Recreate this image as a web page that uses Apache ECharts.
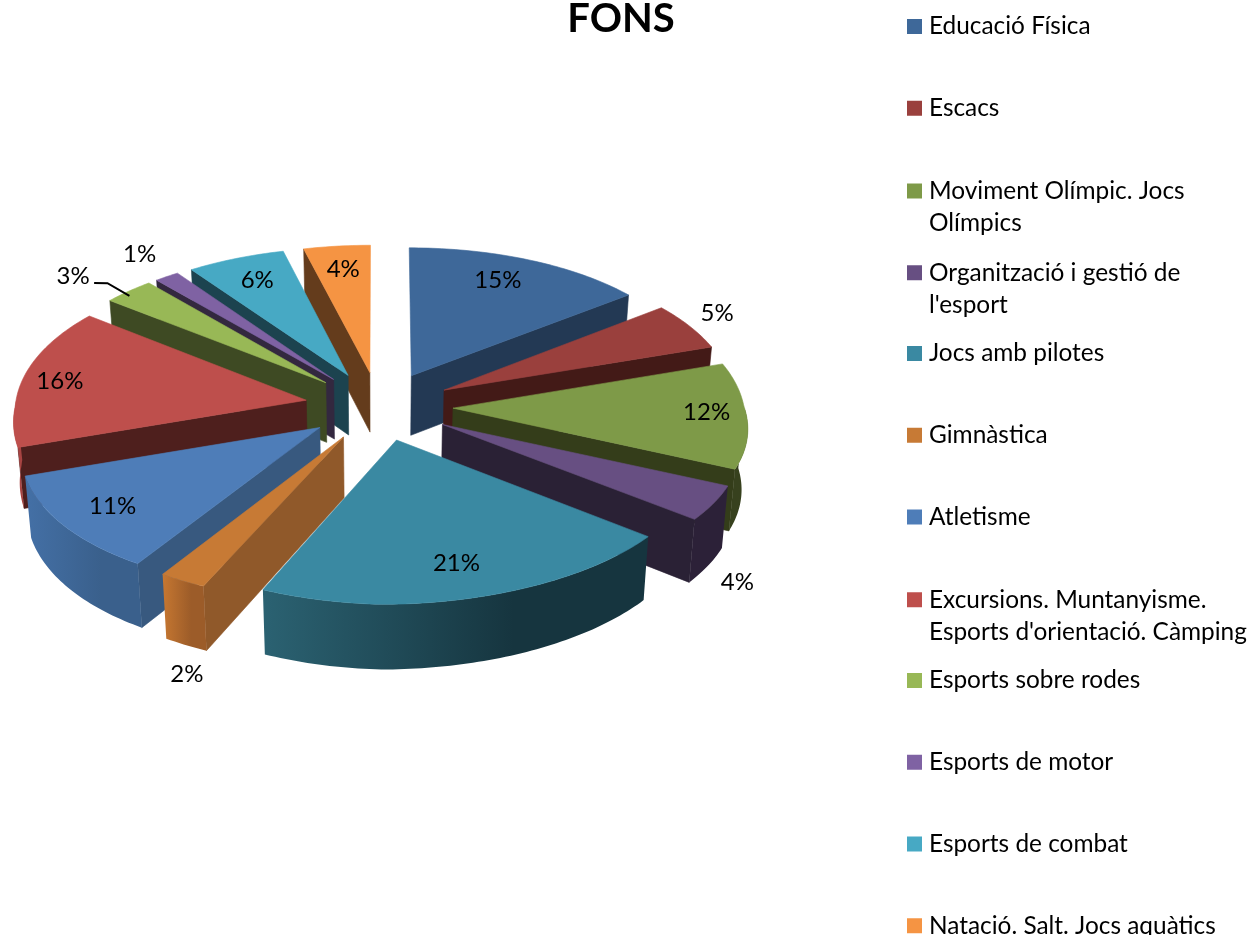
<!DOCTYPE html>
<html>
<head>
<meta charset="utf-8">
<style>html,body{margin:0;padding:0;background:#fff}#c{width:1253px;height:935px}</style>
<script src="https://cdn.jsdelivr.net/npm/echarts@6/dist/echarts.min.js"></script>
</head>
<body>
<div id="c"></div>
<script>
const categories = ["Educació Física","Escacs","Moviment Olímpic. Jocs Olímpics","Organització i gestió de l'esport","Jocs amb pilotes","Gimnàstica","Atletisme","Excursions. Muntanyisme. Esports d'orientació. Càmping","Esports sobre rodes","Esports de motor","Esports de combat","Natació. Salt. Jocs aquàtics"];
const values = [14.6,5.4,12,4,20.6,2.3,11,15.6,3.1,1.49,5.91,4];
const titleText = "FONS";

const legendLines = {
  "Moviment Olímpic. Jocs Olímpics":["Moviment Olímpic. Jocs","Olímpics"],
  "Organització i gestió de l'esport":["Organització i gestió de","l'esport"],
  "Excursions. Muntanyisme. Esports d'orientació. Càmping":["Excursions. Muntanyisme.","Esports d'orientació. Càmping"]
};
const topColors   = ["#3E6899","#9A403D","#7E9A48","#674F82","#3A89A2","#C77A35","#4E7DB8","#BE4F4C","#98B856","#7F62A3","#47A9C4","#F59443"];
const wallColors  = ["#233954","#431A17","#343D1A","#2A2135","#1C434F","#90592A","#38597F","#4E1F1D","#3E4A23","#33283F","#1C434F","#643C1C"];
const outerColors = [["#233954","#233954"],["#431A17","#431A17"],["#37411E","#37411E"],["#2C2138","#2C2138"],["#2B6272","#16353F"],["#C67731","#9C5C29"],["#4470A6","#3A608C"],["#AA4543","#A84442"],["#3E4A23","#3E4A23"],["#33283F","#33283F"],["#1C434F","#1C434F"],["#643C1C","#643C1C"]];
// label anchors on the pie plane: distance from centre and clock angle
const labelDist  = [303,406,326,459,303,499,311,327,435,428,306,306];
const labelAngle = [24.7,60.7,92.5,137.7,167,198.1,232.2,279,311.3,322.8,334.9,352.8];
const leaderPolar = [[406,311.7],[395,313],[356,312.2]];
const leaderIndex = 8;

const CX=379, CY=406, R=295, RX=291, EXPLODE=69, EXPLODE_X=74, K=0.5, BOTTOM_X=0.983;
const PERSP_FRONT=0.12, PERSP_BACK=0.07, PERSP_Y_FRONT=0.072, PERSP_Y_BACK=0.106, TILT=0.026;
const total = values.reduce((a,b)=>a+b,0);
const rad = d=>d*Math.PI/180;

function project(X,Z,low){
  const f = 1/(1-(Z>0?PERSP_FRONT:PERSP_BACK)*Z/R);
  const fy = 1/(1-(Z>0?PERSP_Y_FRONT:PERSP_Y_BACK)*Z/R);
  const d = 60+(f-1)*30;
  const tilt = TILT*Math.max(X,0)*Math.max(Z,0)/R;
  return [CX+X*f*(low?BOTTOM_X:1), CY+Z*K*fy-tilt+(low?d:0)];
}
function polar(dist,deg){ return project(dist*Math.sin(rad(deg)), -dist*Math.cos(rad(deg)), false); }

function makeRender(i){
  return function(params,api){
    const val = api.value(0);
    const before = values.slice(0,i).reduce((a,b)=>a+b,0);
    const a0 = before/total*360, a1 = (before+val)/total*360, mid=(a0+a1)/2;
    const ox = EXPLODE_X*Math.sin(rad(mid)), oz = -EXPLODE*Math.cos(rad(mid));
    const pt = (deg,r,low)=>project(ox+r*RX/R*Math.sin(rad(deg)), oz-r*Math.cos(rad(deg)), low);
    const arc = (from,to,low)=>{
      const n=Math.max(2,Math.ceil(Math.abs(to-from))), out=[];
      for(let k=0;k<=n;k++) out.push(pt(from+(to-from)*k/n,R,low));
      return out;
    };
    const poly=(points,fill)=>({type:'polygon',shape:{points},style:{fill,stroke:typeof fill==='string'?fill:null,lineWidth:0.6},silent:true});
    const children=[];
    const wall=deg=>poly([pt(deg,0,false),pt(deg,R,false),pt(deg,R,true),pt(deg,0,true)],wallColors[i]);
    if(Math.sin(rad(a0))<0) children.push(wall(a0));
    if(Math.sin(rad(a1))>0) children.push(wall(a1));
    const from=Math.max(a0,90), to=Math.min(a1,270);
    if(to>from){
      const pts=arc(from,to,false).concat(arc(from,to,true).reverse());
      const grad=new echarts.graphic.LinearGradient(0,0,1,0,[{offset:0,color:outerColors[i][0]},{offset:0.65,color:outerColors[i][1]},{offset:1,color:outerColors[i][1]}]);
      children.push(poly(pts,grad));
    }
    children.push(poly([pt(a0,0,false)].concat(arc(a0,a1,false)),topColors[i]));
    const lp=polar(labelDist[i],labelAngle[i]);
    children.push({type:'text',silent:true,style:{text:Math.round(val/total*100)+'%',x:lp[0],y:lp[1],align:'center',verticalAlign:'middle',fill:'#000',font:'24px Lato'},z2:50});
    if(i===leaderIndex){
      children.push({type:'polyline',silent:true,shape:{points:leaderPolar.map(p=>polar(p[0],p[1]))},style:{stroke:'#000',lineWidth:2,fill:null},z2:49});
    }
    return {type:'group',children};
  };
}

// painter's order: slices further back first
const depthRank = values.map((v,i)=>{
  const before=values.slice(0,i).reduce((a,b)=>a+b,0);
  return -Math.cos(rad((before+v/2)/total*360));
});
const sorted = depthRank.map((d,i)=>[d,i]).sort((a,b)=>a[0]-b[0]).map(p=>p[1]);

const series = categories.map((name,i)=>({
  type:'custom',name,coordinateSystem:'none',animation:false,silent:true,clip:false,
  z:2+sorted.indexOf(i),
  itemStyle:{color:topColors[i]},
  data:[[values[i]]],
  renderItem:makeRender(i)
}));

const legendRowHeight=81.75, legendFirstY=26.5, lineH=32;
const legends = categories.map((name,i)=>{
  const two=!!legendLines[name];
  const y=legendFirstY+legendRowHeight*i+(two?1:0);
  return {
    data:[name],selectedMode:false,orient:'vertical',left:907,top:y-(two?1.5:0.5)*lineH,padding:0,
    icon:'rect',itemWidth:15,itemHeight:15,
    textStyle:{fontFamily:'Lato',fontSize:24.4,color:'#000',lineHeight:lineH,padding:[0,0,0,2]},
    formatter:n=>legendLines[n]?' \n'+legendLines[n].join('\n'):n
  };
});

const chart=echarts.init(document.getElementById('c'),null,{renderer:'canvas'});
chart.setOption({
  animation:false,backgroundColor:'#fff',
  title:{text:titleText,left:616,top:-6,textAlign:'center',textStyle:{fontFamily:'Lato',fontWeight:'bold',fontSize:40,color:'#000'}},
  legend:legends,
  series
});
</script>
</body>
</html>
